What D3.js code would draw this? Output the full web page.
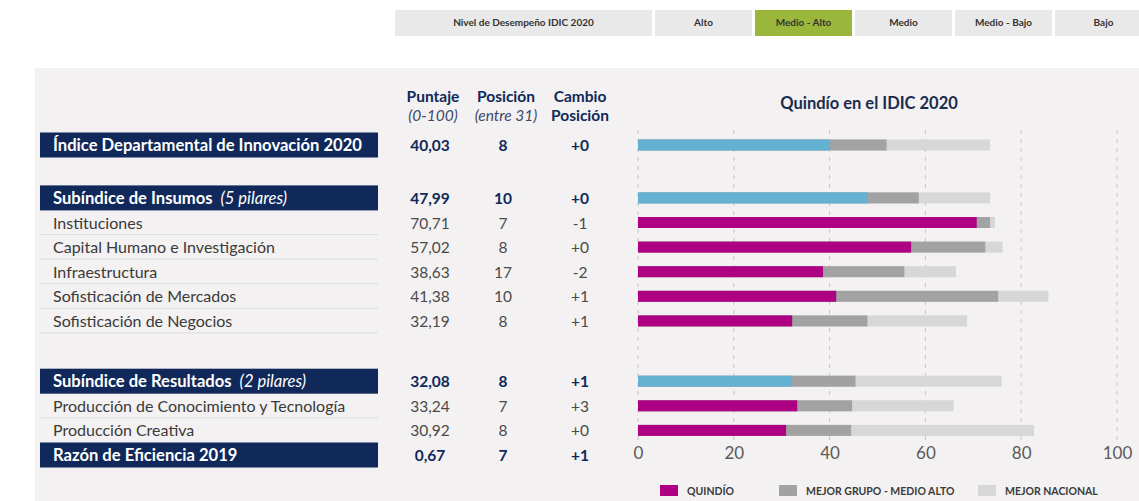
<!DOCTYPE html>
<html lang="es">
<head>
<meta charset="UTF-8">
<title>Quindío en el IDIC 2020</title>
<script src="https://d3js.org/d3.v7.min.js"></script>
<style>
  body { margin: 0; background: #fff; font-family: Lato, "Open Sans", sans-serif; }
  svg { display: block; }
</style>
</head>
<body>
<svg width="1139" height="501"></svg>
<script>
// performance levels (top strip)
const levels = ["Nivel de Desempeño IDIC 2020", "Alto", "Medio - Alto", "Medio", "Medio - Bajo", "Bajo"];
const activeLevel = "Medio - Alto";

// table rows
const labels = ["Índice Departamental de Innovación 2020", "Subíndice de Insumos", "Instituciones",
  "Capital Humano e Investigación", "Infraestructura", "Sofisticación de Mercados", "Sofisticación de Negocios",
  "Subíndice de Resultados", "Producción de Conocimiento y Tecnología", "Producción Creativa", "Razón de Eficiencia 2019"];
const notes = ["", "(5 pilares)", "", "", "", "", "", "(2 pilares)", "", "", ""];
const isHeader = [true, true, false, false, false, false, false, true, false, false, true];
const puntaje = ["40,03", "47,99", "70,71", "57,02", "38,63", "41,38", "32,19", "32,08", "33,24", "30,92", "0,67"];
const posicion = ["8", "10", "7", "8", "17", "10", "8", "8", "7", "8", "7"];
const cambio = ["+0", "+0", "-1", "+0", "-2", "+1", "+1", "+1", "+3", "+0", "+1"];

// bar values (null = no bar)
const quindio = [40.03, 47.99, 70.71, 57.02, 38.63, 41.38, 32.19, 32.08, 33.24, 30.92, null];
const mejorGrupo = [51.9, 58.6, 73.5, 72.5, 55.6, 75.2, 47.9, 45.4, 44.7, 44.5, null];
const mejorNacional = [73.5, 73.5, 74.5, 76.1, 66.4, 85.7, 68.7, 75.9, 65.9, 82.7, null];

const xTicks = [0, 20, 40, 60, 80, 100];
const legendNames = ["QUINDÍO", "MEJOR GRUPO - MEDIO ALTO", "MEJOR NACIONAL"];

const navy = "#10295a", magenta = "#ad0083", blue = "#63b2d2", midGray = "#a2a2a2", lightGray = "#d7d7d7";

const svg = d3.select("svg");

// top level strip
const lvlX = d3.scaleOrdinal().domain(levels).range([395, 655, 755, 855, 955, 1055]);
const lvlW = d3.scaleOrdinal().domain(levels).range([257, 97, 97, 97, 97, 97]);
const lvl = svg.append("g");
lvl.selectAll("rect").data(levels).join("rect")
  .attr("x", d => lvlX(d)).attr("y", 10).attr("width", d => lvlW(d)).attr("height", 26)
  .attr("fill", d => d === activeLevel ? "#9bb73b" : "#e9e9e9");
lvl.selectAll("text").data(levels).join("text")
  .attr("x", d => lvlX(d) + lvlW(d) / 2).attr("y", 26)
  .attr("text-anchor", "middle").attr("font-size", 10).attr("font-weight", 700)
  .attr("fill", "#333").text(d => d);

// panel background
svg.append("rect").attr("x", 35).attr("y", 68).attr("width", 1104).attr("height", 433).attr("fill", "#f3f1f1");

// row positions: extra gap before the two subindex blocks
let acc = 0;
const units = labels.map((d, i) => {
  if (i > 0) acc += 1;
  if (i === 1) acc += 1.15;
  if (i === 7) acc += 1.45;
  return acc;
});
const y = d3.scaleLinear().domain([0, 12.6]).range([145, 455]);
const rowY = i => y(units[i]);

// left table
const left = svg.append("g");
labels.forEach((lab, i) => {
  const cy = rowY(i);
  if (isHeader[i]) {
    left.append("rect").attr("x", 40).attr("y", cy - 12.5).attr("width", 338).attr("height", 25).attr("fill", navy);
  } else if (i !== 9) {
    left.append("line").attr("x1", 40).attr("x2", 378).attr("y1", cy + 12).attr("y2", cy + 12)
      .attr("stroke", "#dedede").attr("stroke-width", 1);
  }
  const t = left.append("text").attr("x", 53).attr("y", cy + 6)
    .attr("font-size", isHeader[i] ? 16.6 : 16)
    .attr("fill", isHeader[i] ? "#fff" : "#3a3a3a").attr("font-weight", isHeader[i] ? 700 : 400);
  t.append("tspan").text(lab);
  if (notes[i]) t.append("tspan").attr("dx", 8).attr("font-style", "italic").attr("font-weight", 400).text(notes[i]);

  const cols = [[430, puntaje[i]], [503, posicion[i]], [580, cambio[i]]];
  cols.forEach(([cx, v]) => {
    left.append("text").attr("x", cx).attr("y", cy + 6).attr("text-anchor", "middle")
      .attr("font-size", 15.5).attr("font-weight", isHeader[i] ? 700 : 400)
      .attr("fill", isHeader[i] ? navy : "#4a4a4a").text(v);
  });
});

// column headers
const hdr = [[433, "Puntaje", "(0-100)", true], [506, "Posición", "(entre 31)", true], [580, "Cambio", "Posición", false]];
hdr.forEach(([cx, a, b, ital]) => {
  svg.append("text").attr("x", cx).attr("y", 102).attr("text-anchor", "middle").attr("font-size", 15.5)
    .attr("font-weight", 700).attr("fill", navy).text(a);
  svg.append("text").attr("x", cx).attr("y", 121).attr("text-anchor", "middle").attr("font-size", 15.5)
    .attr("font-weight", ital ? 400 : 700).attr("font-style", ital ? "italic" : "normal")
    .attr("fill", ital ? "#3f4a6a" : navy).text(b);
});

// chart
const x = d3.scaleLinear().domain([0, 100]).range([638, 1117]);

svg.append("text").attr("x", 869).attr("y", 109).attr("text-anchor", "middle")
  .attr("font-size", 16.5).attr("font-weight", 700).attr("fill", "#1a2b50").text("Quindío en el IDIC 2020");

const grid = svg.append("g");
grid.selectAll("line").data(xTicks).join("line")
  .attr("x1", d => x(d)).attr("x2", d => x(d)).attr("y1", 130).attr("y2", 440)
  .attr("stroke", "#c4c4c4").attr("stroke-dasharray", "4,5").attr("stroke-width", 1);

const axis = svg.append("g").attr("transform", "translate(0,441)")
  .call(d3.axisBottom(x).tickValues(xTicks).tickSize(0).tickPadding(6));
axis.select(".domain").remove();
axis.selectAll("text").attr("font-size", 17).attr("fill", "#5a5a5a").attr("font-family", "Lato, sans-serif");

const idx = d3.range(labels.length).filter(i => quindio[i] != null);
const bh = 11;
const bars = svg.append("g");
bars.selectAll(".nac").data(idx).join("rect").attr("class", "nac")
  .attr("x", x(0)).attr("y", i => rowY(i) - bh / 2).attr("width", i => x(mejorNacional[i]) - x(0)).attr("height", bh)
  .attr("fill", lightGray);
bars.selectAll(".grp").data(idx).join("rect").attr("class", "grp")
  .attr("x", x(0)).attr("y", i => rowY(i) - bh / 2).attr("width", i => x(mejorGrupo[i]) - x(0)).attr("height", bh)
  .attr("fill", midGray);
bars.selectAll(".qui").data(idx).join("rect").attr("class", "qui")
  .attr("x", x(0)).attr("y", i => rowY(i) - bh / 2).attr("width", i => x(quindio[i]) - x(0)).attr("height", bh)
  .attr("fill", i => isHeader[i] ? blue : magenta);

// legend
const legX = d3.scaleOrdinal().domain(legendNames).range([660, 779, 978]);
const legC = d3.scaleOrdinal().domain(legendNames).range([magenta, midGray, lightGray]);
const leg = svg.append("g");
leg.selectAll("rect").data(legendNames).join("rect")
  .attr("x", d => legX(d)).attr("y", 485).attr("width", 18).attr("height", 11).attr("fill", d => legC(d));
leg.selectAll("text").data(legendNames).join("text")
  .attr("x", d => legX(d) + 27).attr("y", 494.5).attr("font-size", 10.5).attr("font-weight", 700)
  .attr("fill", "#3a3a3a").text(d => d);
</script>
</body>
</html>
